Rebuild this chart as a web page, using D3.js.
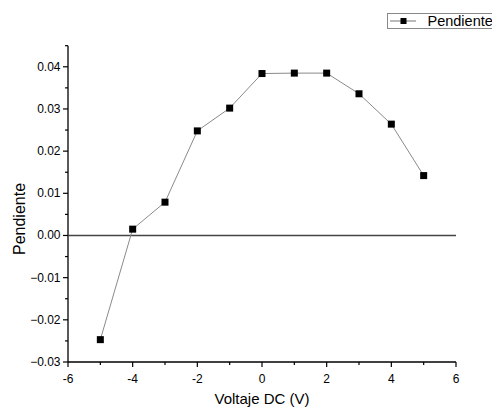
<!DOCTYPE html>
<html>
<head>
<meta charset="utf-8">
<script src="https://cdn.jsdelivr.net/npm/d3@7"></script>
<style>
  html, body { margin: 0; padding: 0; background: #fff; }
  svg { display: block; font-family: "Liberation Sans", Arial, sans-serif; }
</style>
</head>
<body>
<svg id="chart" width="492" height="407"></svg>
<script>
// Slope vs DC voltage
const voltages = [-5, -4, -3, -2, -1, 0, 1, 2, 3, 4, 5];
const slopes = [-0.0247, 0.0015, 0.0079, 0.0248, 0.0302, 0.0384, 0.0385, 0.0385, 0.0336, 0.0264, 0.0142];
const xTicks = [-6, -4, -2, 0, 2, 4, 6];
const xMinorTicks = [-5, -3, -1, 1, 3, 5];
const yTicks = [-0.03, -0.02, -0.01, 0.00, 0.01, 0.02, 0.03, 0.04];
const yMinorTicks = [-0.025, -0.015, -0.005, 0.005, 0.015, 0.025, 0.035, 0.045];
const seriesName = "Pendiente";
const xTitle = "Voltaje DC (V)";
const yTitle = "Pendiente";

const svg = d3.select("#chart");
const x = d3.scaleLinear().domain([-6, 6]).range([68, 456]);
const y = d3.scaleLinear().domain([-0.03, 0.045]).range([362, 45.7]);

// Axis lines
svg.append("line").attr("x1", x(-6)).attr("x2", x(6)).attr("y1", y(-0.03)).attr("y2", y(-0.03))
  .attr("stroke", "#000").attr("stroke-width", 1.3);
svg.append("line").attr("x1", x(-6)).attr("x2", x(-6)).attr("y1", y(-0.03)).attr("y2", y(0.045))
  .attr("stroke", "#000").attr("stroke-width", 1.3);

// X ticks
svg.selectAll(".xt").data(xTicks).join("line")
  .attr("x1", d => x(d)).attr("x2", d => x(d))
  .attr("y1", y(-0.03)).attr("y2", y(-0.03) + 5)
  .attr("stroke", "#000").attr("stroke-width", 1.2);
svg.selectAll(".xm").data(xMinorTicks).join("line")
  .attr("x1", d => x(d)).attr("x2", d => x(d))
  .attr("y1", y(-0.03)).attr("y2", y(-0.03) + 3)
  .attr("stroke", "#000").attr("stroke-width", 1.2);
svg.selectAll(".xl").data(xTicks).join("text")
  .attr("x", d => x(d)).attr("y", 383)
  .attr("text-anchor", "middle").attr("font-size", 12).attr("fill", "#000")
  .text(d => d);

// Y ticks
svg.selectAll(".yt").data(yTicks).join("line")
  .attr("x1", x(-6) - 5).attr("x2", x(-6))
  .attr("y1", d => y(d)).attr("y2", d => y(d))
  .attr("stroke", "#000").attr("stroke-width", 1.2);
svg.selectAll(".ym").data(yMinorTicks).join("line")
  .attr("x1", x(-6) - 3).attr("x2", x(-6))
  .attr("y1", d => y(d)).attr("y2", d => y(d))
  .attr("stroke", "#000").attr("stroke-width", 1.2);
svg.selectAll(".yl").data(yTicks).join("text")
  .attr("x", 60.5).attr("y", d => y(d) + 4)
  .attr("text-anchor", "end").attr("font-size", 12).attr("fill", "#000")
  .text(d => d3.format(".2f")(d));

// Titles
svg.append("text").attr("x", (x(-6) + x(6)) / 2).attr("y", 403.5)
  .attr("text-anchor", "middle").attr("font-size", 15).attr("fill", "#000").text(xTitle);
svg.append("text").attr("transform", "translate(24.5,219) rotate(-90)")
  .attr("text-anchor", "middle").attr("font-size", 16).attr("fill", "#000").text(yTitle);

// Zero reference line
svg.append("line").attr("x1", x(-6)).attr("x2", x(6)).attr("y1", y(0)).attr("y2", y(0))
  .attr("stroke", "#444").attr("stroke-width", 1.4);

// Series line and markers
const pts = voltages.map((v, i) => [v, slopes[i]]);
svg.append("path").datum(pts)
  .attr("d", d3.line().x(d => x(d[0])).y(d => y(d[1])))
  .attr("fill", "none").attr("stroke", "#8a8a8a").attr("stroke-width", 1);
svg.selectAll(".pt").data(pts).join("rect")
  .attr("x", d => x(d[0]) - 3.5).attr("y", d => y(d[1]) - 3.5)
  .attr("width", 7).attr("height", 7).attr("fill", "#000");

// Legend
const lg = svg.append("g");
lg.append("rect").attr("x", 387.5).attr("y", 13.5).attr("width", 110).attr("height", 15)
  .attr("fill", "#fff").attr("stroke", "#888").attr("stroke-width", 1);
lg.append("line").attr("x1", 390).attr("x2", 416).attr("y1", 21).attr("y2", 21)
  .attr("stroke", "#777").attr("stroke-width", 1);
lg.append("rect").attr("x", 400.5).attr("y", 18).attr("width", 6).attr("height", 6).attr("fill", "#000");
lg.append("text").attr("x", 427.5).attr("y", 26).attr("font-size", 14.5).attr("fill", "#000").text(seriesName);
</script>
</body>
</html>
